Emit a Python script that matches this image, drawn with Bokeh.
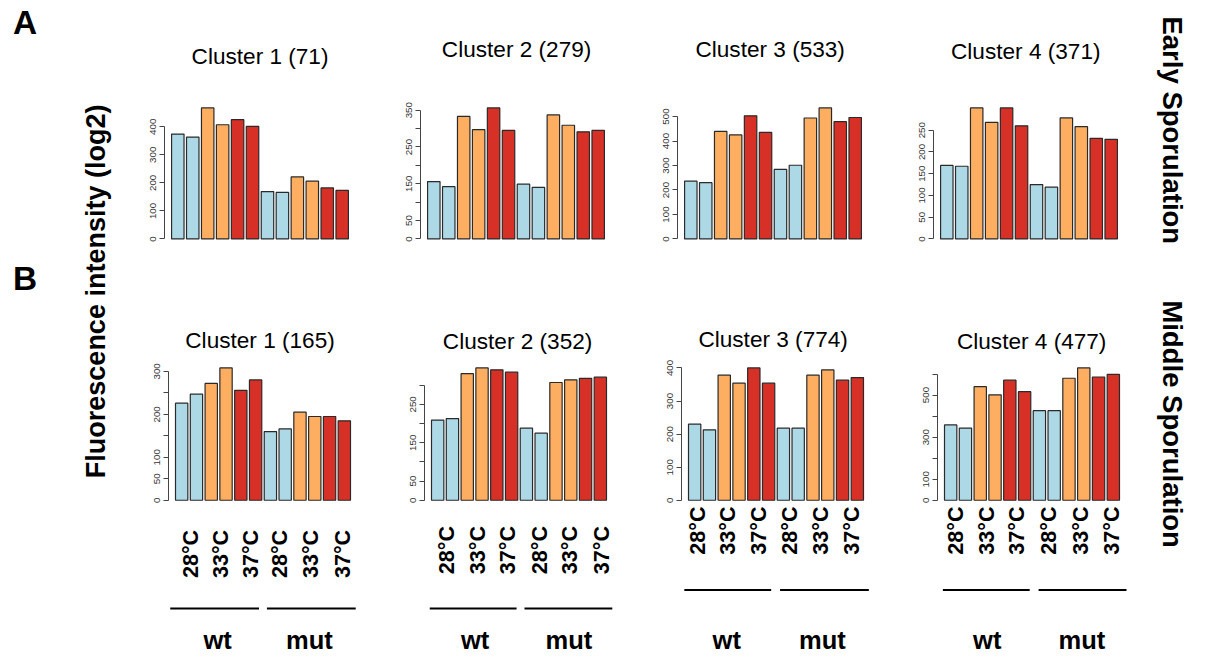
import numpy as np
from bokeh.plotting import figure
from bokeh.layouts import row, column
from bokeh.models import Range1d, FixedTicker
from bokeh.core.properties import value
from bokeh.embed import file_html
from bokeh.resources import INLINE

# ---------------- data ----------------
conditions = ["28°C", "33°C", "37°C", "28°C", "33°C", "37°C"]
genotypes = ["wt", "mut"]
sample_colors = ["#ADD8E6", "#ADD8E6", "#FDAE61", "#FDAE61", "#D73027", "#D73027",
                 "#ADD8E6", "#ADD8E6", "#FDAE61", "#FDAE61", "#D73027", "#D73027"]

early_titles = ["Cluster 1 (71)", "Cluster 2 (279)", "Cluster 3 (533)", "Cluster 4 (371)"]
middle_titles = ["Cluster 1 (165)", "Cluster 2 (352)", "Cluster 3 (774)", "Cluster 4 (477)"]

early_cluster1 = [374, 363, 467, 407, 425, 401, 169, 166, 221, 206, 182, 173]
early_cluster2 = [156, 142, 333, 297, 356, 295, 149, 140, 337, 309, 291, 295]
early_cluster3 = [236, 230, 439, 425, 503, 435, 284, 301, 494, 535, 479, 496]
early_cluster4 = [169, 167, 301, 268, 301, 260, 125, 119, 278, 258, 231, 229]

middle_cluster1 = [226, 247, 272, 308, 256, 280, 160, 166, 205, 195, 195, 185]
middle_cluster2 = [209, 213, 330, 345, 340, 334, 188, 175, 307, 314, 318, 321]
middle_cluster3 = [230, 213, 378, 354, 400, 354, 218, 218, 378, 394, 363, 371]
middle_cluster4 = [358, 343, 540, 501, 571, 516, 426, 426, 580, 629, 586, 598]

early_ticks = [[0, 100, 200, 300, 400],
               [0, 50, 100, 150, 200, 250, 300, 350],
               [0, 100, 200, 300, 400, 500],
               [0, 50, 100, 150, 200, 250]]
early_tick_labels = [["0", "100", "200", "300", "400"],
                     ["0", "50", "", "150", "", "250", "", "350"],
                     ["0", "100", "200", "300", "400", "500"],
                     ["0", "50", "100", "150", "200", "250"]]
middle_ticks = [[0, 50, 100, 150, 200, 250, 300],
                [0, 50, 100, 150, 200, 250, 300],
                [0, 100, 200, 300, 400],
                [0, 100, 200, 300, 400, 500, 600]]
middle_tick_labels = [["0", "50", "100", "", "200", "", "300"],
                      ["0", "50", "", "150", "", "250", ""],
                      ["0", "100", "200", "300", "400"],
                      ["0", "100", "", "300", "", "500", ""]]

row_labels = ["A", "B"]
y_label = "Fluorescence intensity (log2)"
stage_labels = ["Early Sporulation", "Middle Sporulation"]

# ---------------- layout ----------------
# positions are measured on the 1209x670 reference and mapped onto the
# 1193x654 drawable area
FONT = value("Liberation Sans")
TOTAL_W, TOTAL_H = 1193, 654
SX, SY = TOTAL_W / 1209.0, TOTAL_H / 670.0
SF = (SX + SY) / 2.0


def tx(rx):
    return rx * SX


def ty(ry):
    return ry * SY


def fs(px):
    return "%.1fpx" % (px * SF)


col_bounds = [0] + [int(round(tx(126 + 260 * i))) for i in range(5)] + [TOTAL_W]
row_bounds = [0, int(round(ty(298))), TOTAL_H]

ROW = {
    "A": dict(top=row_bounds[0], h=row_bounds[1] - row_bounds[0],
              frame_left=166.0, frame_w=194.0, zero=244.3, bartop=104.7),
    "B": dict(top=row_bounds[1], h=row_bounds[2] - row_bounds[1],
              frame_left=170.0, frame_w=192.0, zero=512.0, bartop=371.0),
}

early_title_pos = [(263, 57), (523, 50), (780, 50), (1039, 52)]
middle_title_pos = [(263, 348), (524, 349), (783, 347), (1045, 349)]
temp_x = [[193, 223, 253, 283, 314, 347],
          [452, 483, 514, 546, 577, 609],
          [706, 737, 768, 800, 831, 862],
          [968, 999, 1030, 1062, 1094, 1126]]
temp_y = [567, 563, 543, 543]
group_lines = [[(172, 262), (270, 360)],
               [(435, 523), (531, 620)],
               [(693, 781), (790, 880)],
               [(955, 1043), (1052, 1142)]]
line_y = [623, 623, 604, 604]
group_x = [[220, 313], [481, 576], [736, 833], [1000, 1096]]
group_base_y = [655, 655, 655, 655]


def build_panel(vals, ticks, tick_labels, title, col, rk, title_pos, extras=None):
    r = ROW[rk]
    fig_left = col_bounds[col + 1]
    W = col_bounds[col + 2] - fig_left
    H = r["h"]
    L = int(round(tx(r["frame_left"] + 260 * col) - fig_left))
    FW = int(round(r["frame_w"] * SX))
    Z = ty(r["zero"]) - r["top"]
    T = ty(r["bartop"]) - r["top"]

    n = len(vals)
    centers = [0.7 + 1.2 * i for i in range(n)]
    xlo, xhi = 0.2, 1.2 * n
    ext = 0.04 * (xhi - xlo)
    x0, x1 = xlo - ext, xhi + ext
    M = max(vals)
    k = (Z - T) / (1.04 * M)

    p = figure(width=W, height=H, title=None,
               x_range=Range1d(x0, x1), y_range=Range1d(-(H - Z) / k, Z / k),
               x_axis_location=None, y_axis_location="left",
               toolbar_location=None, output_backend="svg",
               min_border_left=L, min_border_right=W - L - FW,
               min_border_top=0, min_border_bottom=0)
    p.grid.visible = False
    p.outline_line_color = None
    p.background_fill_color = "white"
    p.border_fill_color = "white"

    def fx(rx):
        return x0 + (tx(rx) - fig_left - L) / FW * (x1 - x0)

    def fy(ry):
        return (Z - (ty(ry) - r["top"])) / k

    p.vbar(x=centers, top=vals, bottom=0, width=1.0, fill_color=sample_colors,
           line_color="#2a2a2a", line_width=1.2)

    ax = p.yaxis[0]
    ax.ticker = FixedTicker(ticks=ticks)
    ax.major_label_overrides = {t: lab for t, lab in zip(ticks, tick_labels)}
    ax.bounds = (0, ticks[-1])
    ax.major_label_orientation = "vertical"
    ax.major_label_text_font = "Liberation Sans"
    ax.major_label_text_font_size = fs(10)
    ax.major_label_text_color = "#333333"
    ax.major_label_standoff = 3
    ax.axis_line_color = "#444444"
    ax.major_tick_line_color = "#444444"
    ax.major_tick_out = 5
    ax.major_tick_in = 0
    ax.minor_tick_line_color = None

    p.text(x=[fx(title_pos[0])], y=[fy(title_pos[1])], text=[title],
           text_font=FONT, text_font_size=fs(23), text_color="black",
           text_align="center", text_baseline="middle")

    if extras is not None:
        txs, tys, segs, ly, gx, gy = extras
        p.text(x=[fx(v) for v in txs], y=[fy(tys)] * len(txs), text=conditions,
               angle=np.pi / 2, text_font=FONT, text_font_size=fs(22),
               text_font_style="bold", text_color="black",
               text_align="center", text_baseline="middle")
        p.segment(x0=[fx(a) for a, b in segs], y0=[fy(ly)] * len(segs),
                  x1=[fx(b) for a, b in segs], y1=[fy(ly)] * len(segs),
                  line_color="black", line_width=2)
        p.text(x=[fx(v) for v in gx], y=[fy(gy)] * len(gx), text=genotypes,
               text_font=FONT, text_font_size=fs(26), text_font_style="bold",
               text_color="black", text_align="center", text_baseline="alphabetic")
    return p


early_data = [early_cluster1, early_cluster2, early_cluster3, early_cluster4]
middle_data = [middle_cluster1, middle_cluster2, middle_cluster3, middle_cluster4]

row_a = [build_panel(early_data[i], early_ticks[i], early_tick_labels[i], early_titles[i],
                     i, "A", early_title_pos[i]) for i in range(4)]
row_b = [build_panel(middle_data[i], middle_ticks[i], middle_tick_labels[i], middle_titles[i],
                     i, "B", middle_title_pos[i],
                     extras=(temp_x[i], temp_y[i], group_lines[i], line_y[i],
                             group_x[i], group_base_y[i])) for i in range(4)]


def blank_fig(x_left, x_right):
    w = x_right - x_left
    f = figure(width=w, height=TOTAL_H, title=None, x_range=Range1d(0, w),
               y_range=Range1d(0, TOTAL_H), x_axis_location=None, y_axis_location=None,
               toolbar_location=None, output_backend="svg", min_border=0)
    f.grid.visible = False
    f.outline_line_color = None
    return f


left = blank_fig(col_bounds[0], col_bounds[1])
left.text(x=[tx(25), tx(25)], y=[TOTAL_H - ty(23), TOTAL_H - ty(285)], text=row_labels,
          text_font=FONT, text_font_size=fs(34), text_font_style="bold", text_color="black",
          text_align="center", text_baseline="middle")
left.text(x=[tx(97)], y=[TOTAL_H - ty(298)], text=[y_label], angle=np.pi / 2,
          text_font=FONT, text_font_size=fs(27.5), text_font_style="bold", text_color="black",
          text_align="center", text_baseline="middle")

right = blank_fig(col_bounds[5], col_bounds[6])
rx0 = col_bounds[5]
right.text(x=[tx(1188) - rx0, tx(1188) - rx0], y=[TOTAL_H - ty(133), TOTAL_H - ty(434)],
           text=stage_labels, angle=-np.pi / 2,
           text_font=FONT, text_font_size=fs(28), text_font_style="bold", text_color="black",
           text_align="center", text_baseline="middle")

layout = row(left, column(row(*row_a), row(*row_b)), right)
open("out.html", "w").write(file_html(layout, INLINE))
